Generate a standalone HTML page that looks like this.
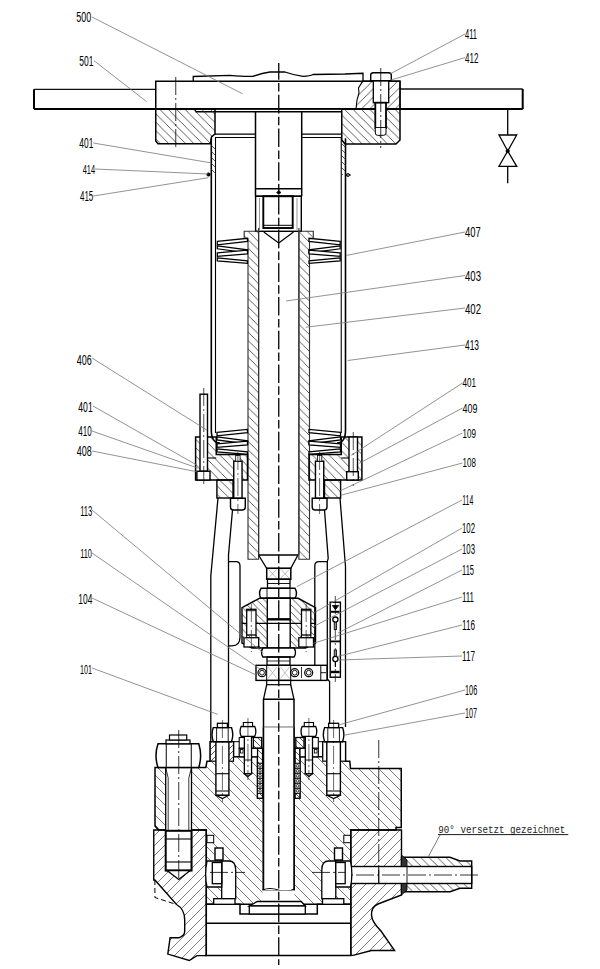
<!DOCTYPE html>
<html><head><meta charset="utf-8"><style>
html,body{margin:0;padding:0;background:#fff;}
svg{display:block;}
</style></head><body>
<svg width="600" height="969" viewBox="0 0 600 969" shape-rendering="auto">

<defs>
<pattern id="h6" patternUnits="userSpaceOnUse" width="6" height="6"><path d="M-1,-1L7,7M-4,2L2,8M4,-4L10,2" stroke="#222" stroke-width="0.75"/></pattern>
<pattern id="h7" patternUnits="userSpaceOnUse" width="8.4" height="8.4"><path d="M-1,-1L9.4,9.4M-5,3.4L5,13.4M3.4,-5L13.4,5" stroke="#333" stroke-width="0.8"/></pattern>
<pattern id="g84" patternUnits="userSpaceOnUse" width="8.4" height="8.4"><path d="M-1,9.4L9.4,-1M-5,5L5,-5M3.4,13.4L13.4,3.4" stroke="#333" stroke-width="0.8"/></pattern>
<pattern id="h73" patternUnits="userSpaceOnUse" width="7.3" height="7.3"><path d="M-1,-1L8.3,8.3M-4,3.3L4,11.3M3.3,-4L11.3,4" stroke="#333" stroke-width="0.8"/></pattern>
<pattern id="h9" patternUnits="userSpaceOnUse" width="10" height="10"><path d="M-1,-1L11,11M-6,4L6,16M4,-6L16,6" stroke="#444" stroke-width="0.7"/></pattern>
<pattern id="g9" patternUnits="userSpaceOnUse" width="10" height="10"><path d="M-1,11L11,-1M-6,6L6,-6M4,16L16,4" stroke="#444" stroke-width="0.7"/></pattern>
<pattern id="g6" patternUnits="userSpaceOnUse" width="6" height="6"><path d="M-1,7L7,-1M-4,4L4,-4M2,10L10,2" stroke="#222" stroke-width="0.75"/></pattern>
</defs>

<rect width="600" height="969" fill="#fff"/>
<line x1="34" y1="89.3" x2="155.75" y2="89.3" stroke="#111" stroke-width="1.3" />
<line x1="34" y1="109" x2="155.75" y2="109" stroke="#000" stroke-width="2" />
<line x1="34" y1="89.3" x2="34" y2="109" stroke="#000" stroke-width="2" />
<line x1="400" y1="89" x2="522.7" y2="89" stroke="#111" stroke-width="1.3" />
<line x1="400" y1="109" x2="522.7" y2="109" stroke="#000" stroke-width="2" />
<line x1="522.7" y1="89" x2="522.7" y2="109" stroke="#000" stroke-width="2" />
<line x1="507.7" y1="109" x2="507.7" y2="135" stroke="#000" stroke-width="1.3" />
<polygon points="499,135 516.7,135 507.7,151" fill="none" stroke="#000" stroke-width="1.3" />
<polygon points="507.7,151 499,166.3 516.7,166.3" fill="none" stroke="#000" stroke-width="1.3" />
<circle cx="507.7" cy="151" r="1.8" fill="#000" stroke="#000" stroke-width="0.5"/>
<line x1="507.7" y1="166.3" x2="507.7" y2="183.3" stroke="#000" stroke-width="1.3" />
<path d="M193.25,81 L193.25,76.5 L230,75.3 Q245,76.8 253,76.3 Q262,73 270,72 L285,72 Q295,75.5 303,76.3 Q310,76 313,74.5 L345,74 L363,73.3 L363,81" fill="none" stroke="#000" stroke-width="1.3" />
<path d="M362.7,81 L400,81 L400,109 L356,109 L357,100 L359,93 L358.5,88 Z" fill="url(#g84)" stroke="#000" stroke-width="1.1" />
<rect x="155.75" y="81.25" width="244.25" height="27.75" rx="0" fill="none" stroke="#000" stroke-width="1.5" />
<line x1="155.75" y1="108.75" x2="400" y2="108.75" stroke="#000" stroke-width="1.6" />
<line x1="195.5" y1="109" x2="195.5" y2="111.5" stroke="#000" stroke-width="1.2" />
<line x1="195.5" y1="111.75" x2="341.75" y2="111.75" stroke="#000" stroke-width="1.5" />
<polygon points="155.75,109 215,109 215,134 211.5,137 210.5,143.75 158,143.75 155.75,141" fill="url(#h7)" stroke="#000" stroke-width="1.5" />
<polygon points="341.75,109 400,109 400,140 396,144 345,144 341.75,140" fill="url(#h7)" stroke="#000" stroke-width="1.5" />
<path d="M370.7,80.7 L370.7,75 Q370.7,72.7 373.5,72.7 L388.5,72.7 Q391.3,72.7 391.3,75 L391.3,80.7 Z" fill="#fff" stroke="#000" stroke-width="1.4" />
<rect x="373.3" y="81" width="15.4" height="21.7" rx="0" fill="#fff" stroke="#000" stroke-width="1.3" />
<rect x="375.3" y="102.7" width="10.7" height="25.3" rx="0" fill="#fff" stroke="#000" stroke-width="1.8" />
<path d="M375.3,128 L375.3,133 Q375.3,135.3 377.5,135.3 L383.8,135.3 Q386,135.3 386,133 L386,128" fill="#fff" stroke="#000" stroke-width="1.0" />
<line x1="380.75" y1="68" x2="380.75" y2="148" stroke="#000" stroke-width="0.8" stroke-dasharray="18 3 2 3"/>
<line x1="175.75" y1="77" x2="175.75" y2="148" stroke="#000" stroke-width="0.8" stroke-dasharray="18 3 2 3"/>
<line x1="255.5" y1="111.5" x2="255.5" y2="196.25" stroke="#000" stroke-width="1.5" />
<line x1="301.7" y1="111.5" x2="301.7" y2="196.25" stroke="#000" stroke-width="1.5" />
<line x1="215" y1="134.2" x2="255.5" y2="134.2" stroke="#000" stroke-width="1.2" />
<line x1="215" y1="137.5" x2="255.5" y2="137.5" stroke="#000" stroke-width="1.2" />
<line x1="301.7" y1="134.2" x2="341.5" y2="134.2" stroke="#000" stroke-width="1.2" />
<line x1="301.7" y1="137.5" x2="341.5" y2="137.5" stroke="#000" stroke-width="1.2" />
<line x1="255.5" y1="188.75" x2="301.7" y2="188.75" stroke="#000" stroke-width="1.3" />
<line x1="255.5" y1="196.25" x2="301.7" y2="196.25" stroke="#000" stroke-width="1.5" />
<polygon points="276.5,192.5 278.75,190.5 281,192.5 278.75,194.5" fill="#000" stroke="#000" stroke-width="0.6" />
<path d="M211.3,138.3 L211.3,430 Q211.3,443 220,443" fill="none" stroke="#000" stroke-width="1.6" />
<path d="M215.5,137.5 L215.5,433" fill="none" stroke="#000" stroke-width="1.1" />
<rect x="211" y="143.75" width="4.5" height="31.25" rx="0" fill="url(#h6)" stroke="#000" stroke-width="0" />
<path d="M345.5,138.3 L345.5,430 Q345.5,443 337,443" fill="none" stroke="#000" stroke-width="1.6" />
<path d="M341.25,137.5 L341.25,433" fill="none" stroke="#000" stroke-width="1.1" />
<rect x="341.25" y="143.75" width="4.25" height="31.25" rx="0" fill="url(#h6)" stroke="#000" stroke-width="0" />
<circle cx="208.5" cy="174.5" r="1.8" fill="#000" stroke="#000" stroke-width="0.5"/>
<circle cx="348" cy="175" r="1.5" fill="none" stroke="#000" stroke-width="0.9"/>
<line x1="345.5" y1="175" x2="351" y2="175" stroke="#000" stroke-width="0.9" />
<rect x="255.6" y="196.25" width="45.7" height="35.05" rx="0" fill="none" stroke="#000" stroke-width="1.4" />
<rect x="263.3" y="196.25" width="29.4" height="31.75" rx="0" fill="none" stroke="#000" stroke-width="1.9" />
<polyline points="263.75,232 278.75,243 293.5,232" fill="none" stroke="#000" stroke-width="1.2" />
<line x1="259.5" y1="198" x2="259.5" y2="230" stroke="#555" stroke-width="0.6" />
<line x1="297" y1="198" x2="297" y2="230" stroke="#555" stroke-width="0.6" />
<polygon points="248,559.2 248,238.75 244.2,238.75 244.2,231.25 258.6,231.25 258.6,559.2" fill="url(#h7)" stroke="#333" stroke-width="1.15" />
<polygon points="309.5,559.2 309.5,238.75 313.3,238.75 313.3,231.25 298.9,231.25 298.9,559.2" fill="url(#h7)" stroke="#333" stroke-width="1.15" />
<line x1="263.75" y1="225.3" x2="293" y2="225.3" stroke="#000" stroke-width="1.0" />
<line x1="258.6" y1="228" x2="258.6" y2="555" stroke="#333" stroke-width="1.15" />
<line x1="298.9" y1="228" x2="298.9" y2="555" stroke="#333" stroke-width="1.15" />
<polygon points="217.3,241.3 247.5,238.3 247.5,241.5 217.3,244.8" fill="#fff" stroke="#000" stroke-width="1.3" />
<polygon points="217.3,245.8 247.5,249.8 247.5,252.8 217.3,248.8" fill="#fff" stroke="#000" stroke-width="1.3" />
<polygon points="217.3,252.8 247.5,250.1 247.5,253.8 217.3,256.3" fill="#fff" stroke="#000" stroke-width="1.3" />
<polygon points="217.3,257.8 247.5,260.8 247.5,263.3 217.3,260.8" fill="#fff" stroke="#000" stroke-width="1.3" />
<polygon points="340.2,241.3 309,238.3 309,241.5 340.2,244.8" fill="#fff" stroke="#000" stroke-width="1.3" />
<polygon points="340.2,245.8 309,249.8 309,252.8 340.2,248.8" fill="#fff" stroke="#000" stroke-width="1.3" />
<polygon points="340.2,252.8 309,250.1 309,253.8 340.2,256.3" fill="#fff" stroke="#000" stroke-width="1.3" />
<polygon points="340.2,257.8 309,260.8 309,263.3 340.2,260.8" fill="#fff" stroke="#000" stroke-width="1.3" />
<polygon points="217,432.4 247.5,429.4 247.5,432.6 217,435.9" fill="#fff" stroke="#000" stroke-width="1.3" />
<polygon points="217,436.9 247.5,440.9 247.5,443.9 217,439.9" fill="#fff" stroke="#000" stroke-width="1.3" />
<polygon points="217,443.9 247.5,441.2 247.5,444.9 217,447.4" fill="#fff" stroke="#000" stroke-width="1.3" />
<polygon points="217,448.9 247.5,451.9 247.5,454.4 217,451.9" fill="#fff" stroke="#000" stroke-width="1.3" />
<polygon points="340.5,432.4 309,429.4 309,432.6 340.5,435.9" fill="#fff" stroke="#000" stroke-width="1.3" />
<polygon points="340.5,436.9 309,440.9 309,443.9 340.5,439.9" fill="#fff" stroke="#000" stroke-width="1.3" />
<polygon points="340.5,443.9 309,441.2 309,444.9 340.5,447.4" fill="#fff" stroke="#000" stroke-width="1.3" />
<polygon points="340.5,448.9 309,451.9 309,454.4 340.5,451.9" fill="#fff" stroke="#000" stroke-width="1.3" />
<polygon points="195.6,437 216.25,437 216.25,454.5 247.5,454.5 247.5,480 195.6,480" fill="url(#h7)" stroke="#000" stroke-width="1.5" />
<polygon points="361.9,437 341.25,437 341.25,454.5 309,454.5 309,480 361.9,480" fill="url(#h7)" stroke="#000" stroke-width="1.5" />
<line x1="208" y1="458" x2="216.25" y2="458" stroke="#000" stroke-width="1.1" />
<line x1="349.5" y1="458" x2="341.25" y2="458" stroke="#000" stroke-width="1.1" />
<rect x="200" y="394.2" width="7.5" height="77.05" rx="0" fill="#fff" stroke="#000" stroke-width="1.4" />
<rect x="196.9" y="471.25" width="13.1" height="8.75" rx="0" fill="#fff" stroke="#000" stroke-width="1.4" />
<line x1="203.75" y1="388" x2="203.75" y2="486" stroke="#000" stroke-width="0.7" stroke-dasharray="18 3 2 3"/>
<rect x="349" y="437" width="8.5" height="34.7" rx="0" fill="#fff" stroke="#000" stroke-width="1.4" />
<rect x="346.7" y="471.7" width="11.6" height="8.3" rx="0" fill="#fff" stroke="#000" stroke-width="1.4" />
<line x1="353.25" y1="432" x2="353.25" y2="486" stroke="#000" stroke-width="0.7" stroke-dasharray="18 3 2 3"/>
<rect x="216.9" y="480" width="16.1" height="18" rx="0" fill="url(#h7)" stroke="#000" stroke-width="1.4" />
<rect x="324.5" y="480" width="16.1" height="18" rx="0" fill="url(#h7)" stroke="#000" stroke-width="1.4" />
<rect x="233.75" y="461.2" width="8.3" height="37.1" rx="0" fill="#fff" stroke="#000" stroke-width="1.4" />
<path d="M230.5,498.3 L245.3,498.3 L245.3,507 Q245.3,510 242.3,510 L233.5,510 Q230.5,510 230.5,507 Z" fill="#fff" stroke="#000" stroke-width="1.4" />
<rect x="235.7" y="455.5" width="4.4" height="5.7" rx="0" fill="#fff" stroke="#000" stroke-width="0.8" />
<line x1="237.9" y1="452" x2="237.9" y2="514" stroke="#000" stroke-width="0.6" stroke-dasharray="18 3 2 3"/>
<rect x="315.45" y="461.2" width="8.3" height="37.1" rx="0" fill="#fff" stroke="#000" stroke-width="1.4" />
<path d="M312.2,498.3 L327,498.3 L327,507 Q327,510 324,510 L315.2,510 Q312.2,510 312.2,507 Z" fill="#fff" stroke="#000" stroke-width="1.4" />
<rect x="317.4" y="455.5" width="4.4" height="5.7" rx="0" fill="#fff" stroke="#000" stroke-width="0.8" />
<line x1="319.6" y1="452" x2="319.6" y2="514" stroke="#000" stroke-width="0.6" stroke-dasharray="18 3 2 3"/>
<path d="M218,498 L210.8,576 L210.8,761" fill="none" stroke="#000" stroke-width="1.3" />
<path d="M232.5,510 L228.5,555 L228.5,727" fill="none" stroke="#000" stroke-width="1.3" />
<path d="M228.5,561.7 L236,561.7 Q240,561.7 240,566 L240,637 Q240,645.8 232,645.8 L228.5,645.8" fill="none" stroke="#000" stroke-width="1.3" />
<path d="M340,498 L345.5,566.7 L345.5,727" fill="none" stroke="#000" stroke-width="1.3" />
<path d="M324.5,510 L328.2,558.3 L327.3,561.6 L327.3,679 L329.6,681.5 L329.6,727" fill="none" stroke="#000" stroke-width="1.3" />
<path d="M327.3,561.6 L319,561.6 Q314.8,561.6 314.8,566 L314.8,665.4" fill="none" stroke="#000" stroke-width="1.3" />
<line x1="259" y1="555" x2="298" y2="555" stroke="#000" stroke-width="1.3" />
<polyline points="258.5,555 266.7,568.3 290.8,568.3 298,555" fill="none" stroke="#000" stroke-width="1.3" />
<rect x="266.7" y="568.3" width="24.1" height="10.9" rx="0" fill="none" stroke="#000" stroke-width="1.5" />
<line x1="278.75" y1="568.3" x2="278.75" y2="579.2" stroke="#000" stroke-width="0.8" />
<line x1="268.5" y1="569.5" x2="276.5" y2="578" stroke="#777" stroke-width="0.5" />
<line x1="276.5" y1="569.5" x2="268.5" y2="578" stroke="#777" stroke-width="0.5" />
<line x1="281" y1="569.5" x2="289" y2="578" stroke="#777" stroke-width="0.5" />
<line x1="289" y1="569.5" x2="281" y2="578" stroke="#777" stroke-width="0.5" />
<rect x="267.5" y="579.2" width="22.5" height="9.1" rx="0" fill="none" stroke="#000" stroke-width="1.3" />
<line x1="267.5" y1="583.5" x2="290" y2="583.5" stroke="#000" stroke-width="0.9" />
<path d="M261,588.3 L295,588.3 Q298,593.3 295,598.3 L261,598.3 Q258,593.3 261,588.3 Z" fill="#fff" stroke="#000" stroke-width="1.4" />
<line x1="267" y1="588.3" x2="267" y2="598.3" stroke="#000" stroke-width="0.9" />
<line x1="290" y1="588.3" x2="290" y2="598.3" stroke="#000" stroke-width="0.9" />
<polygon points="259.3,598.3 242,607.7 242,643 252,648 305.5,648 315.5,643 315.5,607.7 298.2,598.3" fill="url(#h73)" stroke="#000" stroke-width="1.4" />
<rect x="267.3" y="598.3" width="22.9" height="49.7" rx="0" fill="#fff" stroke="#000" stroke-width="1.4" />
<line x1="267.3" y1="619.3" x2="290.2" y2="619.3" stroke="#000" stroke-width="2.4" />
<line x1="242" y1="623.3" x2="315.5" y2="623.3" stroke="#000" stroke-width="1.2" />
<rect x="246.7" y="609.3" width="9.3" height="25.7" rx="0" fill="#fff" stroke="#000" stroke-width="1.3" />
<line x1="246.7" y1="610.7" x2="256" y2="610.7" stroke="#000" stroke-width="0.9" />
<rect x="244" y="637.7" width="14.7" height="9.3" rx="0" fill="#fff" stroke="#000" stroke-width="1.3" />
<line x1="246.7" y1="635" x2="246.7" y2="637.7" stroke="#000" stroke-width="1" />
<line x1="256" y1="635" x2="256" y2="637.7" stroke="#000" stroke-width="1" />
<line x1="251.35" y1="604" x2="251.35" y2="652" stroke="#000" stroke-width="0.6" stroke-dasharray="18 3 2 3"/>
<rect x="301.5" y="609.3" width="9.3" height="25.7" rx="0" fill="#fff" stroke="#000" stroke-width="1.3" />
<line x1="301.5" y1="610.7" x2="310.8" y2="610.7" stroke="#000" stroke-width="0.9" />
<rect x="298.8" y="637.7" width="14.7" height="9.3" rx="0" fill="#fff" stroke="#000" stroke-width="1.3" />
<line x1="301.5" y1="635" x2="301.5" y2="637.7" stroke="#000" stroke-width="1" />
<line x1="310.8" y1="635" x2="310.8" y2="637.7" stroke="#000" stroke-width="1" />
<line x1="306.15" y1="604" x2="306.15" y2="652" stroke="#000" stroke-width="0.6" stroke-dasharray="18 3 2 3"/>
<path d="M263,648 L294,648 Q297,652.5 294,657 L263,657 Q260,652.5 263,648 Z" fill="#fff" stroke="#000" stroke-width="1.4" />
<rect x="267" y="657" width="23" height="8.3" rx="0" fill="none" stroke="#000" stroke-width="1.3" />
<line x1="267" y1="661" x2="290" y2="661" stroke="#000" stroke-width="0.8" />
<rect x="256" y="665.3" width="71" height="15.1" rx="0" fill="#fff" stroke="#000" stroke-width="1.4" />
<line x1="266.7" y1="665.3" x2="266.7" y2="680.4" stroke="#000" stroke-width="1" />
<line x1="290.7" y1="665.3" x2="290.7" y2="680.4" stroke="#000" stroke-width="1" />
<line x1="278.75" y1="665.3" x2="278.75" y2="680.4" stroke="#000" stroke-width="0.8" />
<line x1="268" y1="667" x2="277" y2="678.5" stroke="#888" stroke-width="0.5" />
<line x1="277" y1="667" x2="268" y2="678.5" stroke="#888" stroke-width="0.5" />
<line x1="280.5" y1="667" x2="289.5" y2="678.5" stroke="#888" stroke-width="0.5" />
<line x1="289.5" y1="667" x2="280.5" y2="678.5" stroke="#888" stroke-width="0.5" />
<circle cx="262" cy="672.7" r="4" fill="none" stroke="#000" stroke-width="1.2"/>
<circle cx="262" cy="672.7" r="2.4" fill="none" stroke="#000" stroke-width="0.9"/>
<circle cx="294.7" cy="672.7" r="4" fill="none" stroke="#000" stroke-width="1.2"/>
<circle cx="294.7" cy="672.7" r="2.4" fill="none" stroke="#000" stroke-width="0.9"/>
<circle cx="308.7" cy="672.7" r="4" fill="none" stroke="#000" stroke-width="1.2"/>
<circle cx="308.7" cy="672.7" r="2.4" fill="none" stroke="#000" stroke-width="0.9"/>
<line x1="301.5" y1="667" x2="301.5" y2="678" stroke="#000" stroke-width="0.8" />
<line x1="320.8" y1="665.4" x2="320.8" y2="680.4" stroke="#000" stroke-width="1.0" />
<line x1="320.8" y1="672.7" x2="326" y2="672.7" stroke="#000" stroke-width="0.9" />
<rect x="266.7" y="680.4" width="24" height="4.3" rx="0" fill="none" stroke="#000" stroke-width="1.2" />
<polyline points="266.7,684.7 263.5,699.3 294,699.3 290.7,684.7" fill="none" stroke="#000" stroke-width="1.3" />
<line x1="263.5" y1="699.3" x2="294" y2="699.3" stroke="#000" stroke-width="1.3" />
<line x1="263.5" y1="699.3" x2="263.5" y2="890" stroke="#000" stroke-width="1.5" />
<line x1="294" y1="699.3" x2="294" y2="890" stroke="#000" stroke-width="1.5" />
<line x1="263.5" y1="727.3" x2="294" y2="727.3" stroke="#000" stroke-width="1.2" />
<rect x="330.2" y="602.2" width="10.2" height="75" rx="0" fill="#fff" stroke="#000" stroke-width="1.4" />
<line x1="335.3" y1="596" x2="335.3" y2="682" stroke="#000" stroke-width="0.7" stroke-dasharray="18 3 2 3"/>
<polygon points="332.3,605.5 338.7,605.5 335.5,609.7" fill="#000" stroke="#000" stroke-width="0.8" />
<line x1="331" y1="611.8" x2="339.6" y2="611.8" stroke="#000" stroke-width="2" />
<rect x="334.2" y="621" width="2.4" height="8.5" rx="0" fill="#888" stroke="#000" stroke-width="0.8" />
<circle cx="335.4" cy="619.6" r="2.6" fill="#fff" stroke="#000" stroke-width="1.3"/>
<line x1="330.2" y1="641.4" x2="340.4" y2="641.4" stroke="#000" stroke-width="1.8" />
<rect x="334.2" y="650" width="2.4" height="8" rx="0" fill="#888" stroke="#000" stroke-width="0.8" />
<circle cx="335.4" cy="659" r="2.6" fill="#fff" stroke="#000" stroke-width="1.3"/>
<line x1="335.4" y1="661.6" x2="335.4" y2="667" stroke="#000" stroke-width="1.1" />
<line x1="331" y1="672" x2="339.6" y2="672" stroke="#000" stroke-width="2.4" />
<polygon points="155,767.5 205.8,767.5 207,761.2 210.2,761.2 210.2,741.7 233.5,741.7 233.5,756.8 257.5,756.8 257.5,798.3 263.5,798.3 263.5,890 294,890 294,798.3 299.5,798.3 299.5,756.8 322.75,756.8 322.75,741.7 345.5,741.7 345.5,761.2 349.8,761.2 350.5,768.5 401.25,768.5 401.25,827.5 396,827.5 396,830 350.8,830 350.8,904.3 206.3,904.3 206.3,830 158.5,830 155,826" fill="url(#h9)" stroke="#000" stroke-width="1.5" />
<rect x="210.2" y="741.7" width="23.3" height="19.5" rx="0" fill="#fff" stroke="#000" stroke-width="1.2" />
<rect x="210.2" y="741.7" width="23.3" height="19.5" rx="0" fill="url(#g6)" stroke="#000" stroke-width="0" />
<rect x="322.75" y="741.7" width="22.75" height="19.5" rx="0" fill="#fff" stroke="#000" stroke-width="1.2" />
<path d="M153.75,830 L206.3,830 L206.3,955.6 L196.9,955.6 L189.3,960.5 L167.8,954.1 L170.1,937.8 L178.8,937.8 Q184.7,936 184.7,931.3 L184.7,920 Q184.7,909 176.5,904.5 L154.9,880 L153.75,880 Z" fill="url(#g9)" stroke="#000" stroke-width="1.4" />
<path d="M154.9,880 L154.9,897.5 L176.5,904.5" fill="none" stroke="#000" stroke-width="1.0" stroke-dasharray="5 3"/>
<path d="M350.8,830 L401.5,830 L401.5,895 L378,904 Q371,907 371.5,915.4 Q372,922 380.8,930.8 L394.6,950.5 L371.5,950.5 L353,955.4 L350.8,955.4 Z" fill="url(#g9)" stroke="#000" stroke-width="1.4" />
<polygon points="401.5,857.3 450,857.3 460,861 471.7,861 471.7,888.3 460,888.3 450,891.7 401.5,891.7" fill="url(#h7)" stroke="#000" stroke-width="1.4" />
<rect x="350.8" y="866.5" width="120.9" height="17" rx="0" fill="#fff" stroke="#000" stroke-width="1.4" />
<polygon points="401.5,855 407,860 407,866.5 401.5,866.5" fill="#333" stroke="#000" stroke-width="0.8" />
<polygon points="401.5,883.5 407,883.5 407,890 401.5,895" fill="#333" stroke="#000" stroke-width="0.8" />
<line x1="407" y1="866.5" x2="407" y2="883.5" stroke="#000" stroke-width="0.9" />
<line x1="330" y1="875" x2="478" y2="875" stroke="#000" stroke-width="0.8" stroke-dasharray="18 3 2 3"/>
<line x1="378.75" y1="740" x2="378.75" y2="884" stroke="#000" stroke-width="0.8" stroke-dasharray="18 3 2 3"/>
<line x1="378.75" y1="866.5" x2="378.75" y2="883.5" stroke="#000" stroke-width="1" />
<rect x="263.5" y="727.3" width="30.5" height="162.7" rx="0" fill="#fff" stroke="#000" stroke-width="0" />
<line x1="263.5" y1="727.3" x2="263.5" y2="890" stroke="#000" stroke-width="1.5" />
<line x1="294" y1="727.3" x2="294" y2="890" stroke="#000" stroke-width="1.5" />
<path d="M262.5,890 Q270,887 278,890 Q286,893 294.5,889" fill="none" stroke="#000" stroke-width="1.1" />
<rect x="257.5" y="748.3" width="5" height="50" rx="0" fill="#fff" stroke="#000" stroke-width="1.2" />
<rect x="257.5" y="748.3" width="5" height="15" rx="0" fill="url(#h6)" stroke="#000" stroke-width="0.9" />
<rect x="257.5" y="793.3" width="5" height="5" rx="0" fill="url(#h6)" stroke="#000" stroke-width="0.9" />
<rect x="257.5" y="763.3" width="5" height="5" rx="0" fill="#fff" stroke="#000" stroke-width="0.9" />
<circle cx="260" cy="765.8" r="1.3" fill="none" stroke="#000" stroke-width="0.8"/>
<rect x="257.5" y="768.3" width="5" height="5" rx="0" fill="#fff" stroke="#000" stroke-width="0.9" />
<circle cx="260" cy="770.8" r="1.3" fill="none" stroke="#000" stroke-width="0.8"/>
<rect x="257.5" y="773.3" width="5" height="5" rx="0" fill="#fff" stroke="#000" stroke-width="0.9" />
<circle cx="260" cy="775.8" r="1.3" fill="none" stroke="#000" stroke-width="0.8"/>
<rect x="257.5" y="778.3" width="5" height="5" rx="0" fill="#fff" stroke="#000" stroke-width="0.9" />
<circle cx="260" cy="780.8" r="1.3" fill="none" stroke="#000" stroke-width="0.8"/>
<rect x="257.5" y="783.3" width="5" height="5" rx="0" fill="#fff" stroke="#000" stroke-width="0.9" />
<circle cx="260" cy="785.8" r="1.3" fill="none" stroke="#000" stroke-width="0.8"/>
<rect x="257.5" y="788.3" width="5" height="5" rx="0" fill="#fff" stroke="#000" stroke-width="0.9" />
<circle cx="260" cy="790.8" r="1.3" fill="none" stroke="#000" stroke-width="0.8"/>
<rect x="253.3" y="737.5" width="8.4" height="10.8" rx="0" fill="url(#h6)" stroke="#000" stroke-width="1.3" />
<rect x="239.2" y="737.5" width="14.1" height="10.8" rx="0" fill="#fff" stroke="#000" stroke-width="1.1" />
<rect x="239.2" y="748.3" width="18.3" height="8.5" rx="0" fill="#fff" stroke="#000" stroke-width="1.2" />
<rect x="240.5" y="749.5" width="2.5" height="3.5" rx="0" fill="none" stroke="#000" stroke-width="0.8" />
<line x1="233.5" y1="741.7" x2="239.2" y2="741.7" stroke="#000" stroke-width="1.0" />
<rect x="295" y="748.3" width="5" height="50" rx="0" fill="#fff" stroke="#000" stroke-width="1.2" />
<rect x="295" y="748.3" width="5" height="15" rx="0" fill="url(#h6)" stroke="#000" stroke-width="0.9" />
<rect x="295" y="793.3" width="5" height="5" rx="0" fill="url(#h6)" stroke="#000" stroke-width="0.9" />
<rect x="295" y="763.3" width="5" height="5" rx="0" fill="#fff" stroke="#000" stroke-width="0.9" />
<circle cx="297.5" cy="765.8" r="1.3" fill="none" stroke="#000" stroke-width="0.8"/>
<rect x="295" y="768.3" width="5" height="5" rx="0" fill="#fff" stroke="#000" stroke-width="0.9" />
<circle cx="297.5" cy="770.8" r="1.3" fill="none" stroke="#000" stroke-width="0.8"/>
<rect x="295" y="773.3" width="5" height="5" rx="0" fill="#fff" stroke="#000" stroke-width="0.9" />
<circle cx="297.5" cy="775.8" r="1.3" fill="none" stroke="#000" stroke-width="0.8"/>
<rect x="295" y="778.3" width="5" height="5" rx="0" fill="#fff" stroke="#000" stroke-width="0.9" />
<circle cx="297.5" cy="780.8" r="1.3" fill="none" stroke="#000" stroke-width="0.8"/>
<rect x="295" y="783.3" width="5" height="5" rx="0" fill="#fff" stroke="#000" stroke-width="0.9" />
<circle cx="297.5" cy="785.8" r="1.3" fill="none" stroke="#000" stroke-width="0.8"/>
<rect x="295" y="788.3" width="5" height="5" rx="0" fill="#fff" stroke="#000" stroke-width="0.9" />
<circle cx="297.5" cy="790.8" r="1.3" fill="none" stroke="#000" stroke-width="0.8"/>
<rect x="295.8" y="737.5" width="8.4" height="10.8" rx="0" fill="url(#h6)" stroke="#000" stroke-width="1.3" />
<rect x="304.2" y="737.5" width="14.1" height="10.8" rx="0" fill="#fff" stroke="#000" stroke-width="1.1" />
<rect x="300" y="748.3" width="18.3" height="8.5" rx="0" fill="#fff" stroke="#000" stroke-width="1.2" />
<rect x="314.5" y="749.5" width="2.5" height="3.5" rx="0" fill="none" stroke="#000" stroke-width="0.8" />
<line x1="324" y1="741.7" x2="318.3" y2="741.7" stroke="#000" stroke-width="1.0" />
<polygon points="206.3,904.3 240,904.3 240,914 317.3,914 317.3,904.3 350.8,904.3 350.8,955.4 206.3,955.4" fill="#fff" stroke="#000" stroke-width="1.5" />
<line x1="206.3" y1="923.3" x2="350.8" y2="923.3" stroke="#000" stroke-width="1.5" />
<rect x="262.5" y="890.5" width="32" height="12.8" rx="0" fill="#fff" stroke="#000" stroke-width="0" />
<polygon points="257.3,901.5 301.3,901.5 305.3,906 249.3,906" fill="#fff" stroke="#000" stroke-width="1.3" />
<rect x="249.3" y="906" width="56" height="8" rx="0" fill="#fff" stroke="#000" stroke-width="1.3" />
<path d="M221.7,861 L229,861 Q235.7,861 235.7,870 L235.7,898.7 L221.7,898.7 Z" fill="#fff" stroke="#000" stroke-width="1.3" />
<path d="M221.7,861 L207,861 Q204.3,874 207,887 L221.7,887 Z" fill="#fff" stroke="#000" stroke-width="1.3" />
<rect x="212.3" y="862.5" width="9.4" height="21.2" rx="0" fill="#fff" stroke="#000" stroke-width="1.3" />
<rect x="213.7" y="898.7" width="21.3" height="5.6" rx="0" fill="#fff" stroke="#000" stroke-width="1.3" />
<rect x="215" y="848" width="8" height="12" rx="0" fill="#fff" stroke="#000" stroke-width="1.4" />
<rect x="207" y="835.3" width="6.7" height="7.4" rx="0" fill="#fff" stroke="#000" stroke-width="1" />
<path d="M335.8,861 L328.5,861 Q321.8,861 321.8,870 L321.8,898.7 L335.8,898.7 Z" fill="#fff" stroke="#000" stroke-width="1.3" />
<path d="M335.8,861 L350.5,861 Q353.2,874 350.5,887 L335.8,887 Z" fill="#fff" stroke="#000" stroke-width="1.3" />
<rect x="335.8" y="862.5" width="9.4" height="21.2" rx="0" fill="#fff" stroke="#000" stroke-width="1.3" />
<rect x="322.5" y="898.7" width="21.3" height="5.6" rx="0" fill="#fff" stroke="#000" stroke-width="1.3" />
<rect x="334.5" y="848" width="8" height="12" rx="0" fill="#fff" stroke="#000" stroke-width="1.4" />
<rect x="343.8" y="835.3" width="6.7" height="7.4" rx="0" fill="#fff" stroke="#000" stroke-width="1" />
<line x1="210" y1="872.4" x2="245" y2="872.4" stroke="#000" stroke-width="0.8" stroke-dasharray="18 3 2 3"/>
<line x1="312" y1="872.4" x2="345" y2="872.4" stroke="#000" stroke-width="0.8" stroke-dasharray="18 3 2 3"/>
<rect x="165.7" y="767.5" width="25.8" height="103" rx="0" fill="#fff" stroke="#000" stroke-width="1.3" />
<line x1="168.2" y1="778" x2="168.2" y2="830.8" stroke="#222" stroke-width="0.9" />
<line x1="188.8" y1="778" x2="188.8" y2="830.8" stroke="#222" stroke-width="0.9" />
<line x1="165.7" y1="767.5" x2="168.2" y2="778" stroke="#000" stroke-width="0.8" />
<line x1="191.5" y1="767.5" x2="188.8" y2="778" stroke="#000" stroke-width="0.8" />
<rect x="165.7" y="830.8" width="25.8" height="39.7" rx="0" fill="#fff" stroke="#000" stroke-width="2.0" />
<line x1="165.7" y1="839" x2="191.5" y2="839" stroke="#000" stroke-width="1.1" />
<line x1="165.7" y1="862" x2="191.5" y2="862" stroke="#000" stroke-width="1.1" />
<polygon points="167,870.5 178.75,879.5 190.3,870.5" fill="#fff" stroke="#000" stroke-width="1.3" />
<path d="M158,743.75 L198.75,743.75 Q202.5,755.6 198.75,767.5 L158,767.5 Q154,755.6 158,743.75 Z" fill="#fff" stroke="#000" stroke-width="1.5" />
<line x1="166.25" y1="743.75" x2="166.25" y2="767.5" stroke="#000" stroke-width="1" />
<line x1="191.25" y1="743.75" x2="191.25" y2="767.5" stroke="#000" stroke-width="1" />
<rect x="166" y="740" width="24" height="3.75" rx="0" fill="#fff" stroke="#000" stroke-width="1.2" />
<rect x="169.5" y="735" width="17.25" height="5" rx="0" fill="#fff" stroke="#000" stroke-width="1.2" />
<line x1="178.75" y1="730" x2="178.75" y2="880" stroke="#000" stroke-width="0.8" stroke-dasharray="18 3 2 3"/>
<rect x="215.9" y="741.7" width="13" height="53.6" rx="0" fill="#fff" stroke="#000" stroke-width="1.4" />
<line x1="215.9" y1="773.7" x2="228.9" y2="773.7" stroke="#000" stroke-width="1.1" />
<line x1="215.9" y1="791" x2="228.9" y2="791" stroke="#000" stroke-width="1.0" />
<polygon points="215.9,795.3 222.4,798.6 228.9,795.3" fill="#fff" stroke="#000" stroke-width="1.2" />
<path d="M213.3,727.6 L231.5,727.6 Q234,734.6 231.5,741.7 L213.3,741.7 Q210.8,734.6 213.3,727.6 Z" fill="#fff" stroke="#000" stroke-width="1.4" />
<line x1="216.6" y1="727.6" x2="216.6" y2="741.7" stroke="#000" stroke-width="0.9" />
<line x1="228.2" y1="727.6" x2="228.2" y2="741.7" stroke="#000" stroke-width="0.9" />
<rect x="217.4" y="723.3" width="10" height="4.3" rx="0" fill="#fff" stroke="#000" stroke-width="1.3" />
<line x1="222.4" y1="720" x2="222.4" y2="802" stroke="#000" stroke-width="0.6" stroke-dasharray="18 3 2 3"/>
<rect x="326.8" y="741.7" width="13.6" height="53.6" rx="0" fill="#fff" stroke="#000" stroke-width="1.4" />
<line x1="326.8" y1="773.7" x2="340.4" y2="773.7" stroke="#000" stroke-width="1.1" />
<line x1="326.8" y1="791" x2="340.4" y2="791" stroke="#000" stroke-width="1.0" />
<polygon points="326.8,795.3 333.6,798.6 340.4,795.3" fill="#fff" stroke="#000" stroke-width="1.2" />
<path d="M324.6,727.6 L342.6,727.6 Q345.1,734.6 342.6,741.7 L324.6,741.7 Q322.1,734.6 324.6,727.6 Z" fill="#fff" stroke="#000" stroke-width="1.4" />
<line x1="327.8" y1="727.6" x2="327.8" y2="741.7" stroke="#000" stroke-width="0.9" />
<line x1="339.4" y1="727.6" x2="339.4" y2="741.7" stroke="#000" stroke-width="0.9" />
<rect x="328.6" y="723.3" width="10" height="4.3" rx="0" fill="#fff" stroke="#000" stroke-width="1.3" />
<line x1="333.6" y1="720" x2="333.6" y2="802" stroke="#000" stroke-width="0.6" stroke-dasharray="18 3 2 3"/>
<rect x="244.35" y="736.3" width="7.2" height="37.4" rx="0" fill="#fff" stroke="#000" stroke-width="1.3" />
<polygon points="244.35,773.7 247.95,776.5 251.55,773.7" fill="#fff" stroke="#000" stroke-width="1.1" />
<path d="M241.15,726.5 L254.75,726.5 Q256.95,731.4 254.75,736.3 L241.15,736.3 Q238.95,731.4 241.15,726.5 Z" fill="#fff" stroke="#000" stroke-width="1.3" />
<rect x="243.35" y="722.5" width="9.2" height="4" rx="0" fill="#fff" stroke="#000" stroke-width="1.1" />
<line x1="244.35" y1="760" x2="251.55" y2="760" stroke="#000" stroke-width="0.9" />
<line x1="247.95" y1="718" x2="247.95" y2="780" stroke="#000" stroke-width="0.6" stroke-dasharray="18 3 2 3"/>
<rect x="305.3" y="736.3" width="7.2" height="37.4" rx="0" fill="#fff" stroke="#000" stroke-width="1.3" />
<polygon points="305.3,773.7 308.9,776.5 312.5,773.7" fill="#fff" stroke="#000" stroke-width="1.1" />
<path d="M302.1,726.5 L315.7,726.5 Q317.9,731.4 315.7,736.3 L302.1,736.3 Q299.9,731.4 302.1,726.5 Z" fill="#fff" stroke="#000" stroke-width="1.3" />
<rect x="304.3" y="722.5" width="9.2" height="4" rx="0" fill="#fff" stroke="#000" stroke-width="1.1" />
<line x1="305.3" y1="760" x2="312.5" y2="760" stroke="#000" stroke-width="0.9" />
<line x1="308.9" y1="718" x2="308.9" y2="780" stroke="#000" stroke-width="0.6" stroke-dasharray="18 3 2 3"/>
<line x1="278.75" y1="63" x2="278.75" y2="965" stroke="#000" stroke-width="1.3" stroke-dasharray="18.6 3.3 8.5 3.3" stroke-dashoffset="35.6"/>
<g stroke="#777" stroke-width="0.8">
<line x1="92" y1="17" x2="242.5" y2="93.75"/>
<line x1="94" y1="60.7" x2="146.7" y2="101.7"/>
<line x1="93.3" y1="143" x2="210" y2="162.7"/>
<line x1="95" y1="169" x2="208.3" y2="174"/>
<line x1="93.3" y1="196" x2="208.3" y2="177.7"/>
<line x1="92" y1="358" x2="206.7" y2="430"/>
<line x1="93" y1="406" x2="196.7" y2="465"/>
<line x1="92" y1="431" x2="198.3" y2="468.3"/>
<line x1="92" y1="451" x2="196.7" y2="471.7"/>
<line x1="92" y1="510" x2="263.5" y2="653.2"/>
<line x1="92" y1="553" x2="259.9" y2="669"/>
<line x1="92" y1="598" x2="256.2" y2="675"/>
<line x1="92" y1="668" x2="217.7" y2="714.4"/>
<line x1="465" y1="34" x2="390" y2="74"/>
<line x1="465" y1="57.6" x2="391" y2="80"/>
<line x1="465" y1="232" x2="346" y2="255.5"/>
<line x1="465" y1="275.5" x2="286" y2="301"/>
<line x1="465" y1="308" x2="305.75" y2="327.25"/>
<line x1="465" y1="345" x2="347.75" y2="360.5"/>
<line x1="462.5" y1="383" x2="351.3" y2="455.3"/>
<line x1="462.5" y1="408" x2="359.3" y2="463.3"/>
<line x1="462.5" y1="433" x2="339.3" y2="491.3"/>
<line x1="462.5" y1="463" x2="340.7" y2="495.3"/>
<line x1="462" y1="500" x2="296.7" y2="586.7"/>
<line x1="462" y1="528" x2="313.3" y2="613.3"/>
<line x1="462" y1="549" x2="313.3" y2="626.7"/>
<line x1="462" y1="570" x2="338" y2="633"/>
<line x1="462" y1="597" x2="313.3" y2="643.3"/>
<line x1="462" y1="625" x2="336.7" y2="656.7"/>
<line x1="462" y1="656" x2="338.3" y2="660"/>
<line x1="465" y1="690" x2="338.3" y2="725"/>
<line x1="465" y1="713" x2="345" y2="735"/>
</g>
<g font-family="Liberation Sans, sans-serif" fill="#000">
<text x="76.3" y="21.7" font-size="13.89" textLength="15" lengthAdjust="spacingAndGlyphs">500</text>
<text x="79.3" y="66" font-size="14.03" textLength="14.2" lengthAdjust="spacingAndGlyphs">501</text>
<text x="79.3" y="148.3" font-size="13.89" textLength="14" lengthAdjust="spacingAndGlyphs">401</text>
<text x="82.7" y="174.3" font-size="12.92" textLength="12.3" lengthAdjust="spacingAndGlyphs">414</text>
<text x="80" y="200.7" font-size="13.89" textLength="13.3" lengthAdjust="spacingAndGlyphs">415</text>
<text x="76.7" y="365" font-size="13.89" textLength="15" lengthAdjust="spacingAndGlyphs">406</text>
<text x="78.3" y="411.7" font-size="13.89" textLength="14.4" lengthAdjust="spacingAndGlyphs">401</text>
<text x="78.3" y="436" font-size="13.89" textLength="13.4" lengthAdjust="spacingAndGlyphs">410</text>
<text x="76.7" y="456" font-size="13.89" textLength="15" lengthAdjust="spacingAndGlyphs">408</text>
<text x="80.2" y="515.7" font-size="14.31" textLength="12.1" lengthAdjust="spacingAndGlyphs">113</text>
<text x="80.2" y="557.8" font-size="13.61" textLength="11.8" lengthAdjust="spacingAndGlyphs">110</text>
<text x="78.3" y="604.4" font-size="13.75" textLength="14" lengthAdjust="spacingAndGlyphs">104</text>
<text x="80" y="674" font-size="13.61" textLength="12" lengthAdjust="spacingAndGlyphs">101</text>
<text x="465" y="39" font-size="13.89" textLength="12" lengthAdjust="spacingAndGlyphs">411</text>
<text x="465" y="63" font-size="13.89" textLength="13.4" lengthAdjust="spacingAndGlyphs">412</text>
<text x="465" y="237.3" font-size="14.58" textLength="15.8" lengthAdjust="spacingAndGlyphs">407</text>
<text x="465" y="281.3" font-size="13.89" textLength="16" lengthAdjust="spacingAndGlyphs">403</text>
<text x="465" y="313.8" font-size="13.89" textLength="16" lengthAdjust="spacingAndGlyphs">402</text>
<text x="465" y="349.5" font-size="13.89" textLength="14" lengthAdjust="spacingAndGlyphs">413</text>
<text x="462.5" y="387.3" font-size="12.92" textLength="13.5" lengthAdjust="spacingAndGlyphs">401</text>
<text x="462.5" y="412.7" font-size="13.06" textLength="15" lengthAdjust="spacingAndGlyphs">409</text>
<text x="462.5" y="438" font-size="12.92" textLength="13.5" lengthAdjust="spacingAndGlyphs">109</text>
<text x="462.5" y="467.3" font-size="12.92" textLength="13.5" lengthAdjust="spacingAndGlyphs">108</text>
<text x="462.3" y="505" font-size="13.89" textLength="11" lengthAdjust="spacingAndGlyphs">114</text>
<text x="462" y="532.7" font-size="13.89" textLength="13" lengthAdjust="spacingAndGlyphs">102</text>
<text x="462" y="554.3" font-size="13.89" textLength="13" lengthAdjust="spacingAndGlyphs">103</text>
<text x="462" y="575" font-size="13.89" textLength="12" lengthAdjust="spacingAndGlyphs">115</text>
<text x="462" y="601.7" font-size="13.89" textLength="12" lengthAdjust="spacingAndGlyphs">111</text>
<text x="462" y="630" font-size="13.89" textLength="13" lengthAdjust="spacingAndGlyphs">116</text>
<text x="462" y="660.7" font-size="13.89" textLength="13" lengthAdjust="spacingAndGlyphs">117</text>
<text x="465" y="695" font-size="13.89" textLength="12.3" lengthAdjust="spacingAndGlyphs">106</text>
<text x="465" y="718.3" font-size="13.89" textLength="12" lengthAdjust="spacingAndGlyphs">107</text>
</g>
<text x="438.3" y="833" font-family="Liberation Mono, monospace" font-size="10.5" fill="#222" textLength="127" lengthAdjust="spacingAndGlyphs">90° versetzt gezeichnet</text>
<line x1="438" y1="834.6" x2="568.3" y2="834.6" stroke="#000" stroke-width="0.9" />
<line x1="440" y1="835" x2="428.3" y2="856.7" stroke="#555" stroke-width="0.8" />
</svg>
</body></html>
